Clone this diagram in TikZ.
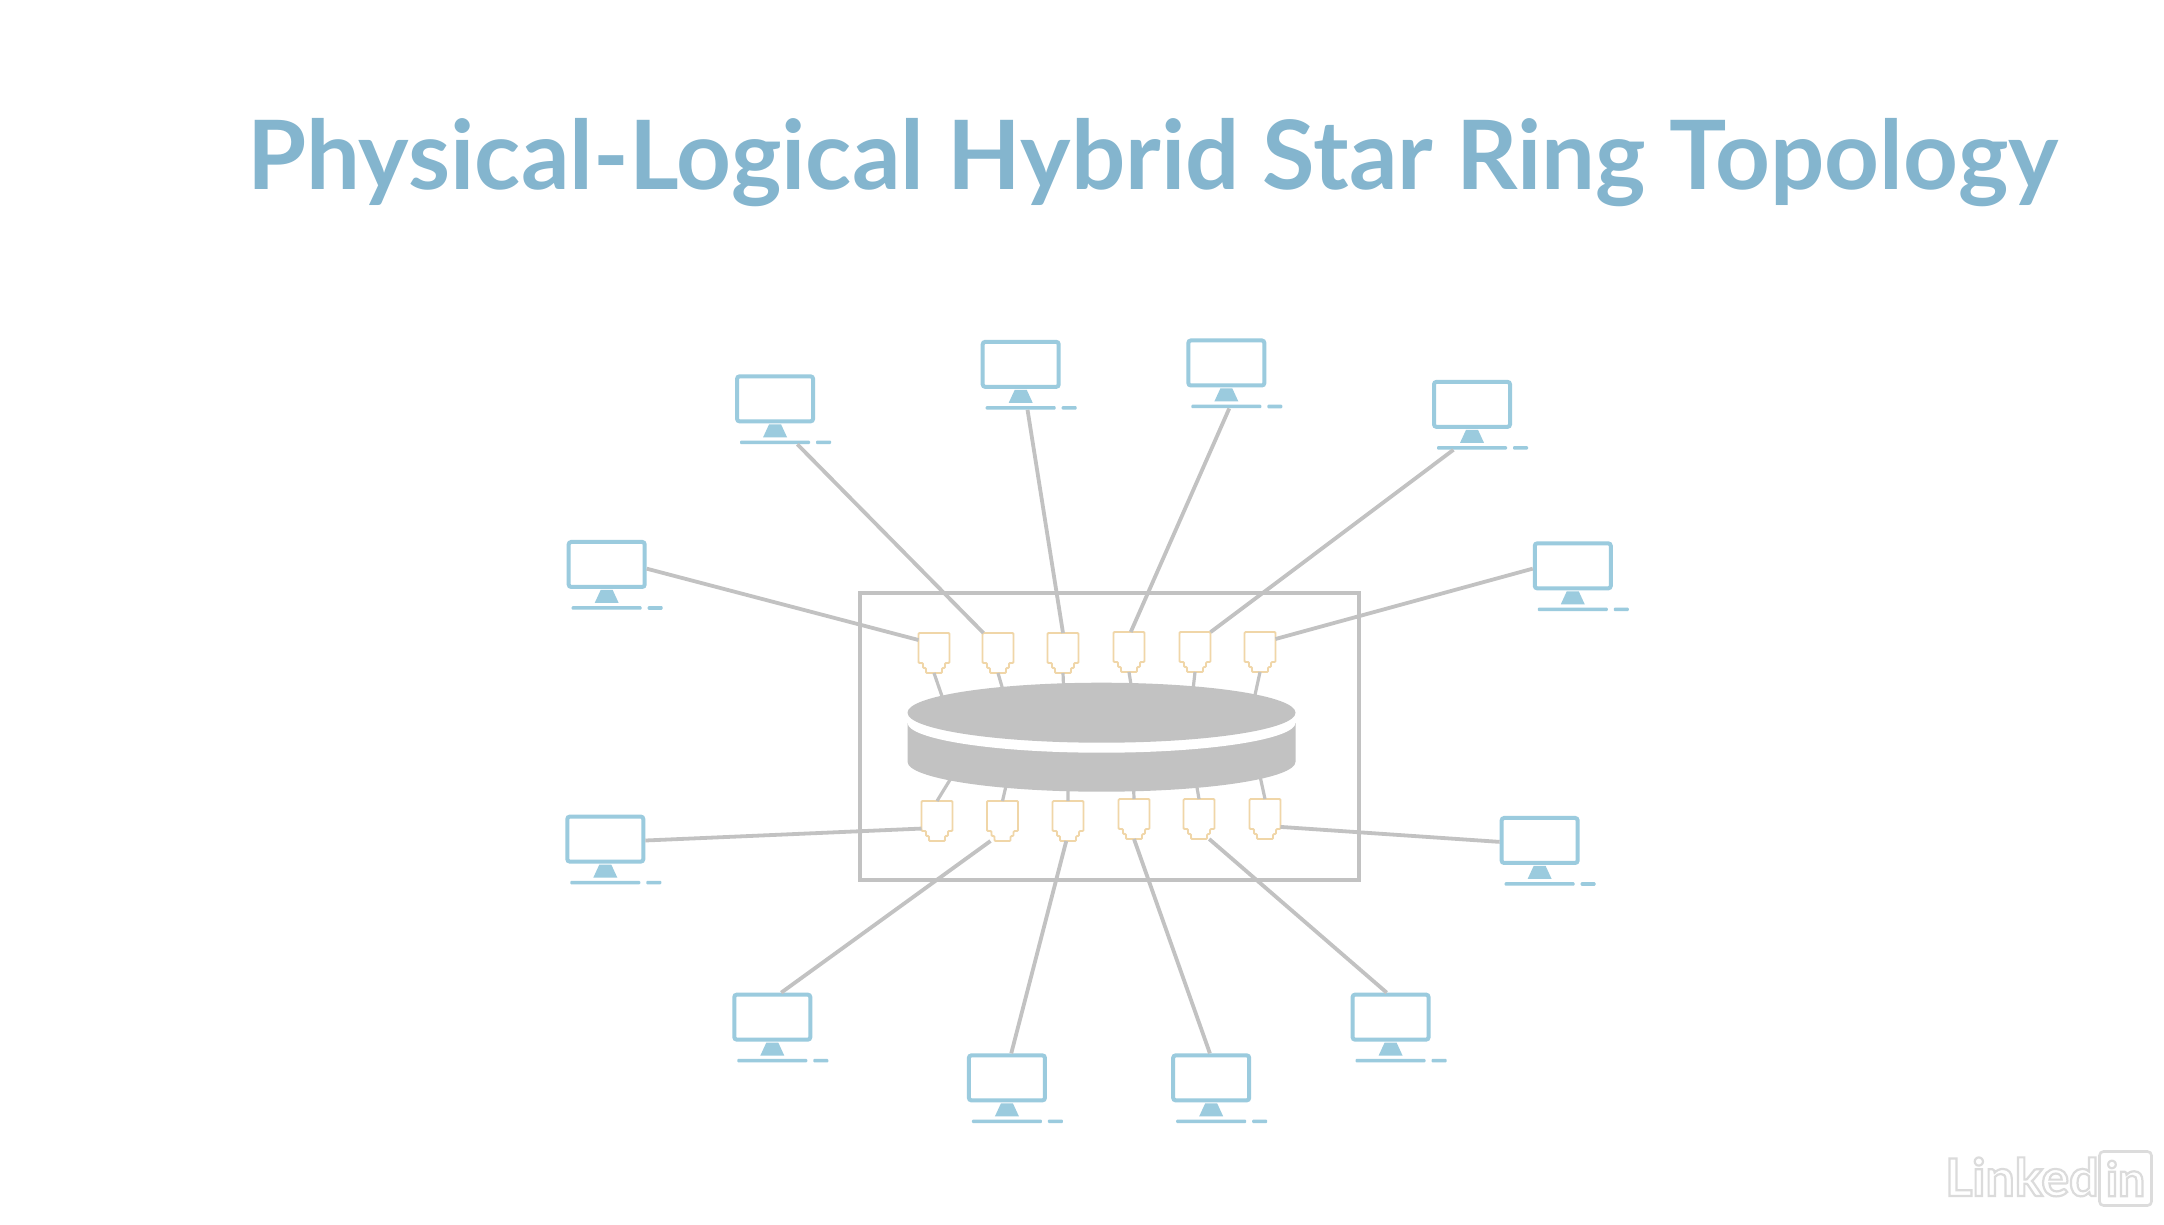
\documentclass[tikz,border=0pt]{standalone}
\usepackage{fontspec}
\usetikzlibrary{shapes.geometric}
\setmainfont{Lato}
\definecolor{titlecol}{HTML}{84B5CE}
\definecolor{moncol}{HTML}{9BCBDE}
\definecolor{linecol}{HTML}{C2C2C2}
\definecolor{jackcol}{HTML}{F0D6A8}
\definecolor{wmcol}{HTML}{DCDCDC}
\tikzset{
  screen/.style={draw=moncol,line width=4pt,rounded corners=2.5pt,fill=white,minimum width=76pt,minimum height=45pt,inner sep=0pt},
  baseline bar/.style={fill=moncol,minimum width=70pt,minimum height=3.5pt,inner sep=0pt,rounded corners=1pt},
  jackbox/.style={minimum width=31pt,minimum height=40pt,inner sep=0pt,outer sep=0pt},
  wire/.style={draw=linecol,line width=3.8pt},
  stub/.style={draw=linecol,line width=3.2pt},
  jackline/.style={draw=jackcol,line width=1.8pt,fill=white,rounded corners=1pt},
}
\newcommand\monitor[3]{%
  \begin{scope}[x=1.3801pt,y=-1.3801pt,shift={(#2-0.4,#3)}]
  \begin{scope}[x=1pt,y=-1pt]
    \node[screen] (m#1) at (0,0) {};
    \fill[moncol] (-6,25.5) -- (6,25.5) -- (12,38.5) -- (-12,38.5) -- cycle;
    \node[baseline bar] (b#1) at (0,43.5) {};
    \fill[moncol,rounded corners=1pt] (41,41.7) rectangle (56,45.3);
  \end{scope}
  \end{scope}}
\newcommand\jack[3]{%
  \begin{scope}[shift={(#2,#3)}]
    \draw[jackline] (-15.5,-20) -- (15.5,-20) -- (15.5,10) -- (11,10) -- (11,15) -- (8,15) -- (8,20) -- (-8,20) -- (-8,15) -- (-11,15) -- (-11,10) -- (-15.5,10) -- cycle;
    \node[jackbox] (#1) at (0,0) {};
  \end{scope}}
\begin{document}
\begin{tikzpicture}[x=1pt,y=-1pt]
\useasboundingbox[fill=white] (0,0) rectangle (2164,1224);
% title
\node[anchor=base west,inner sep=0pt,text=titlecol,font=\fontsize{95.7}{100}\selectfont\bfseries] (title) at (247,189) {Physical-Logical Hybrid Star Ring Topology};
% enclosure
\node[draw=linecol,line width=4pt,minimum width=499pt,minimum height=287pt,inner sep=0pt] (frame) at (1109,736) {};
% monitors
\monitor{1}{440}{409}
\monitor{2}{562}{289}
\monitor{3}{740}{264}
\monitor{4}{889}{263}
\monitor{5}{1067}{293}
\monitor{6}{1140}{410}
\monitor{7}{1116}{609}
\monitor{8}{1008}{737}
\monitor{9}{878}{781}
\monitor{10}{730}{781}
\monitor{11}{560}{737}
\monitor{12}{439}{608}
% free ends of the short links, hidden under the disk
\begin{scope}[shift={(840,580)},x=0.34435pt,y=-0.33333pt]
\coordinate (s1) at (300,360);
\coordinate (s2) at (476,340);
\coordinate (s3) at (650,340);
\coordinate (s4) at (849,340);
\coordinate (s5) at (1024,340);
\coordinate (s6) at (1202,360);
\coordinate (u1) at (328,585);
\coordinate (u2) at (486,600);
\coordinate (u3) at (662,600);
\coordinate (u4) at (852,600);
\coordinate (u5) at (1033,600);
\coordinate (u6) at (1218,580);
\end{scope}
% jacks
\jack{j1}{934}{653}
\jack{j2}{998}{653}
\jack{j3}{1063}{653}
\jack{j4}{1129}{652}
\jack{j5}{1195}{652}
\jack{j6}{1260}{652}
\jack{k1}{937}{821}
\jack{k2}{1002.5}{821}
\jack{k3}{1068}{821}
\jack{k4}{1134}{819}
\jack{k5}{1199}{819}
\jack{k6}{1265}{819}
% connectors
\draw[wire] (m1.-6) -- (j1.140);
\draw[wire] (b2.-5) -- (j2.126);
\draw[wire] (b3.-16) -- (j3.90);
\draw[wire] (b4.-34) -- (j4.85);
\draw[wire] (b5.186) -- (j5.52);
\draw[wire] (m6.184) -- (j6.40);
\draw[wire] (m7.182) -- (k6.333);
\draw[wire] (m8.99) -- (k5.297);
\draw[wire] (m9.93) -- (k4.270);
\draw[wire] (m10.80) -- (k3.265);
\draw[wire] (m11.70) -- (k2.239);
\draw[wire] (m12.-2) -- (k1.206);
\foreach \n in {1,...,6} {
  \draw[stub] (j\n.south) -- (s\n);
  \draw[stub] (k\n.north) -- (u\n);
}
% disk
\fill[linecol] (907.5,723) -- (907.5,761.7) arc[start angle=180,end angle=360,x radius=194,y radius=-30] -- (1295.5,723) -- cycle;
\node[ellipse,fill=white,minimum width=388pt,minimum height=60pt,inner sep=0pt] (diskgap) at (1101.5,722.7) {};
\node[ellipse,fill=linecol,minimum width=388pt,minimum height=60pt,inner sep=0pt] (disk) at (1101.5,712.7) {};
% watermark
\node[anchor=base west,inner sep=0pt,text=wmcol,font=\fontsize{52}{52}\selectfont\bfseries] (wm) at (1945,1196) {\special{pdf:code q 1 Tr 2.2 w 0.86 G}Linked\special{pdf:code Q}};
\node[draw=wmcol,line width=2.6pt,rounded corners=4pt,minimum width=52pt,minimum height=54pt,inner sep=0pt,text=wmcol,font=\fontsize{48}{48}\selectfont\bfseries] (wmbox) at (2125.5,1178.5) {\special{pdf:code q 1 Tr 2.2 w 0.86 G}in\special{pdf:code Q}};
\end{tikzpicture}
\end{document}
